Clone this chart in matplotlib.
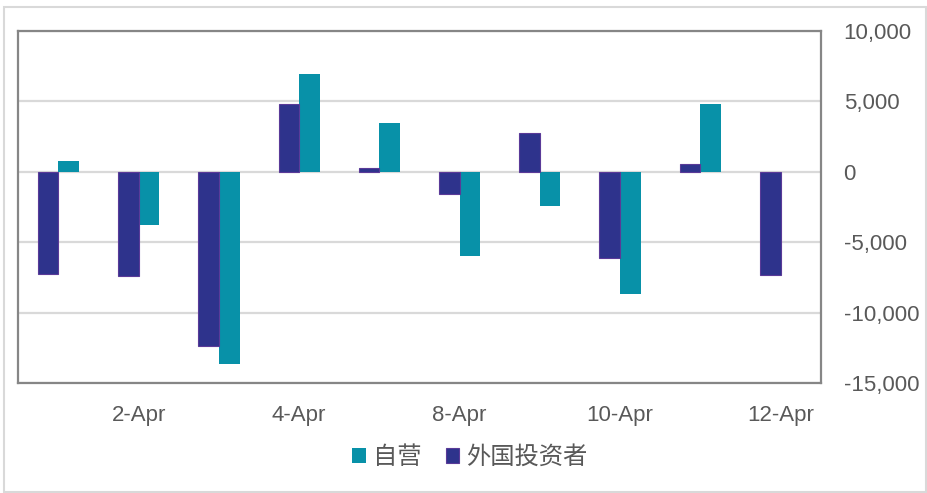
import matplotlib
matplotlib.use("Agg")
import matplotlib.pyplot as plt
from matplotlib.patches import Rectangle
import numpy as np

LAT = ['Liberation Sans', 'DejaVu Sans']
plt.rcParams['font.family'] = LAT + ['Noto Sans CJK SC']

categories = ['1-Apr', '2-Apr', '3-Apr', '4-Apr', '7-Apr', '8-Apr', '9-Apr', '10-Apr', '11-Apr', '12-Apr']
shown_labels = ['', '2-Apr', '', '4-Apr', '', '8-Apr', '', '10-Apr', '', '12-Apr']
foreign = [-7260, -7400, -12350, 4850, 310, -1580, 2770, -6100, 550, -7350]
dealer = [810, -3780, -13640, 6950, 3480, -6000, -2450, -8680, 4800, 0]
series_names = ['自营', '外国投资者']
yticks = [10000, 5000, 0, -5000, -10000, -15000]

teal = '#0891A8'
purple = '#2E338C'

W, H = 928, 493
fig = plt.figure(figsize=(W / 100, H / 100), dpi=100)
ax = fig.add_axes([18.3 / W, 1 - 383.3 / H, (820.7 - 18.3) / W, (383.3 - 31) / H])

x = np.arange(len(categories))
bw = 0.257
b_dealer = ax.bar(x + bw / 2, dealer, bw, color=teal, linewidth=0, zorder=3, label=series_names[0])
b_foreign = ax.bar(x - bw / 2, foreign, bw, color=purple, edgecolor='#5a3a98', linewidth=0.8, zorder=3, label=series_names[1])

ax.set_xlim(-0.5, len(categories) - 0.5)
ax.set_ylim(-15000, 10000)
ax.set_yticks(yticks)
ax.set_yticklabels([f'{v:,}' for v in yticks])
ax.yaxis.tick_right()
ax.tick_params(axis='y', length=0, pad=16.5, labelsize=16, labelcolor='#595959')
for lbl in ax.get_yticklabels():
    lbl.set_horizontalalignment('left')
ax.set_xticks(x)
ax.set_xticklabels(shown_labels)
ax.tick_params(axis='x', length=0, pad=15.5, labelsize=16, labelcolor='#595959')

ax.grid(axis='y', color='#d9d9d9', linewidth=1.6, zorder=0)
ax.set_axisbelow(True)
for s in ax.spines.values():
    s.set_color('#868686')
    s.set_linewidth(1.6)

leg = fig.legend(handles=[b_dealer, b_foreign], labels=series_names, loc='center',
                 bbox_to_anchor=(470 / W, 1 - 457 / H), ncol=2, frameon=False,
                 prop={'family': ['Noto Sans CJK SC', 'DejaVu Sans'], 'size': 17.5},
                 handlelength=0.55, handleheight=0.55, handletextpad=0.3, columnspacing=1.0,
                 labelcolor='#595959')

fig.patches.append(Rectangle((4 / W, 1 - 492 / H), 922 / W, 485 / H, transform=fig.transFigure,
                             fill=False, edgecolor='#d9d9d9', linewidth=1.5))

fig.savefig('out.png', dpi=100)
